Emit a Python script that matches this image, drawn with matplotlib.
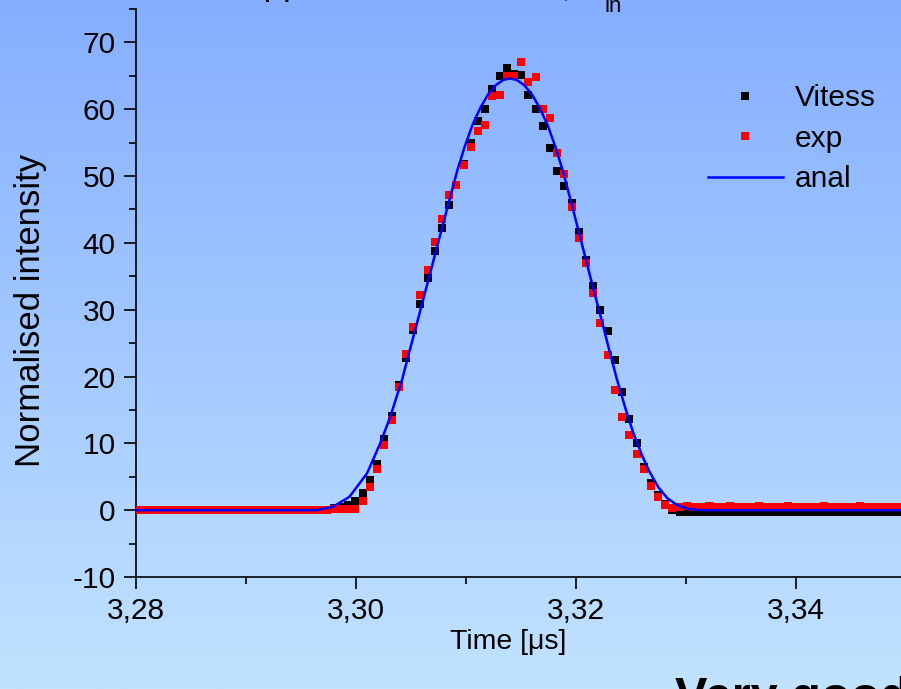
import numpy as np
import matplotlib
matplotlib.use("Agg")
import matplotlib.pyplot as plt
from matplotlib.ticker import MultipleLocator, FuncFormatter

plt.rcParams['font.family'] = ['Liberation Sans', 'DejaVu Sans']

# ---------------- data ----------------
time_us = [
    3.28030, 3.28096, 3.28161, 3.28227, 3.28292, 3.28358, 3.28423, 3.28489, 3.28554, 3.28620,
    3.28685, 3.28751, 3.28816, 3.28882, 3.28947, 3.29013, 3.29078, 3.29144, 3.29209, 3.29275,
    3.29340, 3.29406, 3.29471, 3.29537, 3.29602, 3.29668, 3.29733, 3.29799, 3.29864, 3.29930,
    3.29995, 3.30061, 3.30126, 3.30192, 3.30257, 3.30323, 3.30388, 3.30454, 3.30519, 3.30585,
    3.30650, 3.30716, 3.30781, 3.30847, 3.30912, 3.30978, 3.31043, 3.31109, 3.31174, 3.31240,
    3.31305, 3.31371, 3.31436, 3.31502, 3.31567, 3.31633, 3.31698, 3.31764, 3.31829, 3.31895,
    3.31960, 3.32026, 3.32091, 3.32157, 3.32222, 3.32288, 3.32353, 3.32419, 3.32484, 3.32550,
    3.32615, 3.32681, 3.32746, 3.32812, 3.32877, 3.32943, 3.33008, 3.33074, 3.33139, 3.33205,
    3.33270, 3.33336, 3.33401, 3.33467, 3.33532, 3.33598, 3.33663, 3.33729, 3.33794, 3.33860,
    3.33925, 3.33991, 3.34056, 3.34122, 3.34187, 3.34253, 3.34318, 3.34384, 3.34449, 3.34515,
    3.34580, 3.34646, 3.34711, 3.34777, 3.34842, 3.34908, 3.34973,
]

vitess = [
    0.0, 0.0, 0.0, 0.0, 0.0, 0.0, 0.0, 0.0, 0.0, 0.0,
    0.0, 0.0, 0.0, 0.0, 0.0, 0.0, 0.0, 0.0, 0.0, 0.0,
    0.0, 0.0, 0.0, 0.0, 0.0, 0.0, 0.1, 0.3, 0.5, 0.75,
    1.4, 2.6, 4.5, 6.9, 10.6, 14.1, 18.7, 22.8, 27.0, 30.9,
    34.8, 38.8, 42.3, 45.6, 48.7, 51.8, 55.0, 58.2, 60.1, 63.0,
    65.0, 66.2, 65.3, 65.1, 62.2, 60.1, 57.5, 54.2, 50.7, 48.5,
    46.0, 41.7, 37.5, 33.5, 30.0, 26.8, 22.5, 17.7, 13.6, 10.0,
    6.5, 4.0, 2.25, 0.9, 0.0, -0.2, -0.25, -0.25, -0.25, -0.25,
    -0.25, -0.25, -0.25, -0.25, -0.25, -0.25, -0.25, -0.25, -0.25, -0.25,
    -0.25, -0.25, -0.25, -0.25, -0.25, -0.25, -0.25, -0.25, -0.25, -0.25,
    -0.25, -0.25, -0.25, -0.25, -0.25, -0.25, -0.25,
]

exp = [
    0.1, 0.1, 0.1, 0.1, 0.1, 0.1, 0.1, 0.1, 0.1, 0.1,
    0.1, 0.1, 0.1, 0.1, 0.1, 0.1, 0.1, 0.1, 0.1, 0.1,
    0.1, 0.1, 0.1, 0.1, 0.1, 0.1, 0.1, 0.2, 0.2, 0.15,
    0.25, 1.4, 3.4, 6.2, 9.7, 13.5, 18.4, 23.3, 27.4, 32.2,
    36.0, 40.2, 43.5, 47.1, 48.7, 51.7, 54.3, 56.8, 57.7, 62.0,
    62.2, 65.0, 65.0, 67.0, 64.1, 64.8, 60.0, 58.7, 53.4, 50.3,
    45.3, 40.8, 37.0, 32.5, 28.0, 23.2, 18.0, 14.0, 11.2, 8.4,
    6.1, 3.6, 1.9, 0.75, 0.35, 0.5, 0.6, 0.5, 0.5, 0.6,
    0.5, 0.5, 0.6, 0.5, 0.5, 0.5, 0.6, 0.5, 0.5, 0.5,
    0.6, 0.5, 0.5, 0.5, 0.5, 0.6, 0.5, 0.5, 0.5, 0.5,
    0.6, 0.5, 0.5, 0.5, 0.5, 0.5, 0.5,
]

anal_t = [
    3.2800, 3.2964, 3.2979, 3.2994, 3.3010, 3.3022, 3.3031, 3.3042, 3.3048, 3.3054,
    3.3062, 3.3070, 3.3078, 3.3085, 3.3092, 3.3099, 3.3106, 3.3113, 3.3120, 3.3127,
    3.3134, 3.3140, 3.3146, 3.3153, 3.3160, 3.3167, 3.3174, 3.3181, 3.3188, 3.3195,
    3.3202, 3.3209, 3.3216, 3.3223, 3.3230, 3.3237, 3.3245, 3.3252, 3.3260, 3.3267,
    3.3275, 3.3283, 3.3292, 3.3302, 3.3313, 3.3500,
]
anal_y = [
    0.0, 0.0, 0.5, 2.0, 5.5, 10.0, 13.9, 19.6, 23.4, 27.1,
    32.1, 37.1, 42.1, 46.45, 50.8, 54.5, 57.7, 60.2, 62.2, 63.6,
    64.4, 64.6, 64.4, 63.6, 62.2, 60.2, 57.7, 54.5, 50.8, 46.45,
    42.0, 37.5, 33.0, 28.6, 24.1, 19.7, 15.2, 11.6, 8.2, 5.7,
    3.4, 1.8, 0.75, 0.2, 0.0, 0.0,
]

x_ticks = [3.28, 3.30, 3.32, 3.34]
y_ticks = [-10, 0, 10, 20, 30, 40, 50, 60, 70]

# ---------------- figure ----------------
W, H = 901, 689
fig = plt.figure(figsize=(W / 100, H / 100), dpi=100)

# gradient background
bg = fig.add_axes([0, 0, 1, 1], zorder=-10)
g = np.linspace(0, 1, 256)[:, None, None]
top = np.array([133, 174, 255]) / 255.0
bot = np.array([193, 227, 255]) / 255.0
img = top * (1 - g) + bot * g
bg.imshow(img, aspect='auto', extent=[0, 1, 0, 1], origin='upper')
bg.set_axis_off()

ax = fig.add_axes([136 / W, (H - 577) / H, 770 / W, 568 / H])
ax.set_facecolor('none')

ax.plot(time_us, vitess, 's', color='black', ms=5.2, mew=0, label='Vitess', zorder=3)
ax.plot(time_us, exp, 's', color='#ff0000', ms=5.2, mew=0, label='exp', zorder=4)
ax.plot(anal_t, anal_y, '-', color='#0000ff', lw=1.8, label='anal', zorder=5)

ax.set_xlim(3.28, 3.35)
ax.set_ylim(-10, 75)

ax.xaxis.set_major_locator(plt.FixedLocator(x_ticks))
ax.xaxis.set_minor_locator(MultipleLocator(0.01))
ax.xaxis.set_major_formatter(FuncFormatter(lambda v, p: f"{v:.2f}".replace('.', ',')))
ax.yaxis.set_major_locator(plt.FixedLocator(y_ticks))
ax.yaxis.set_minor_locator(MultipleLocator(5))
ax.yaxis.set_major_formatter(FuncFormatter(lambda v, p: f"{int(round(v))}"))

for s in ['top', 'right']:
    ax.spines[s].set_visible(False)
for s in ['left', 'bottom']:
    ax.spines[s].set_linewidth(1.2)
    ax.spines[s].set_color('black')

ax.tick_params(which='major', direction='out', length=8.5, width=1.2, labelsize=21.5, pad=6)
ax.tick_params(which='minor', direction='out', length=5, width=1.2)

# axis labels
fig.text(31 / W, 1 - 310 / H, 'Normalised intensity', rotation=90, fontsize=25,
         ha='center', va='center')
fig.text(508 / W, 1 - 642 / H, 'Time [μs]', fontsize=20.5, ha='center', va='center')

# title (mostly cut off at top of the figure)
title_y = 1 + 5 / H
fig.text(200 / W, title_y, 'Chopper 1,', fontsize=25, ha='left', va='baseline')
fig.text(571 / W, title_y, 'slits 1 and 2,', fontsize=25, ha='right', va='baseline')
fig.text(583 / W, title_y, 'λ', fontsize=25, ha='left', va='baseline')
fig.text(605 / W, 1 - 12 / H, 'in', fontsize=16, ha='left', va='baseline')

# comment cut at bottom right
fig.text(675 / W, -22 / H, 'Very good agreement', fontsize=35, fontweight='bold',
         ha='left', va='baseline')

leg = ax.legend(loc='upper left', bbox_to_anchor=(708 / W, 1 - 84 / H),
                bbox_transform=fig.transFigure, frameon=False, fontsize=21.5,
                handlelength=2.5, handletextpad=0.4, labelspacing=0.42,
                borderpad=0, borderaxespad=0, numpoints=1)

fig.savefig('out.png', dpi=100)
